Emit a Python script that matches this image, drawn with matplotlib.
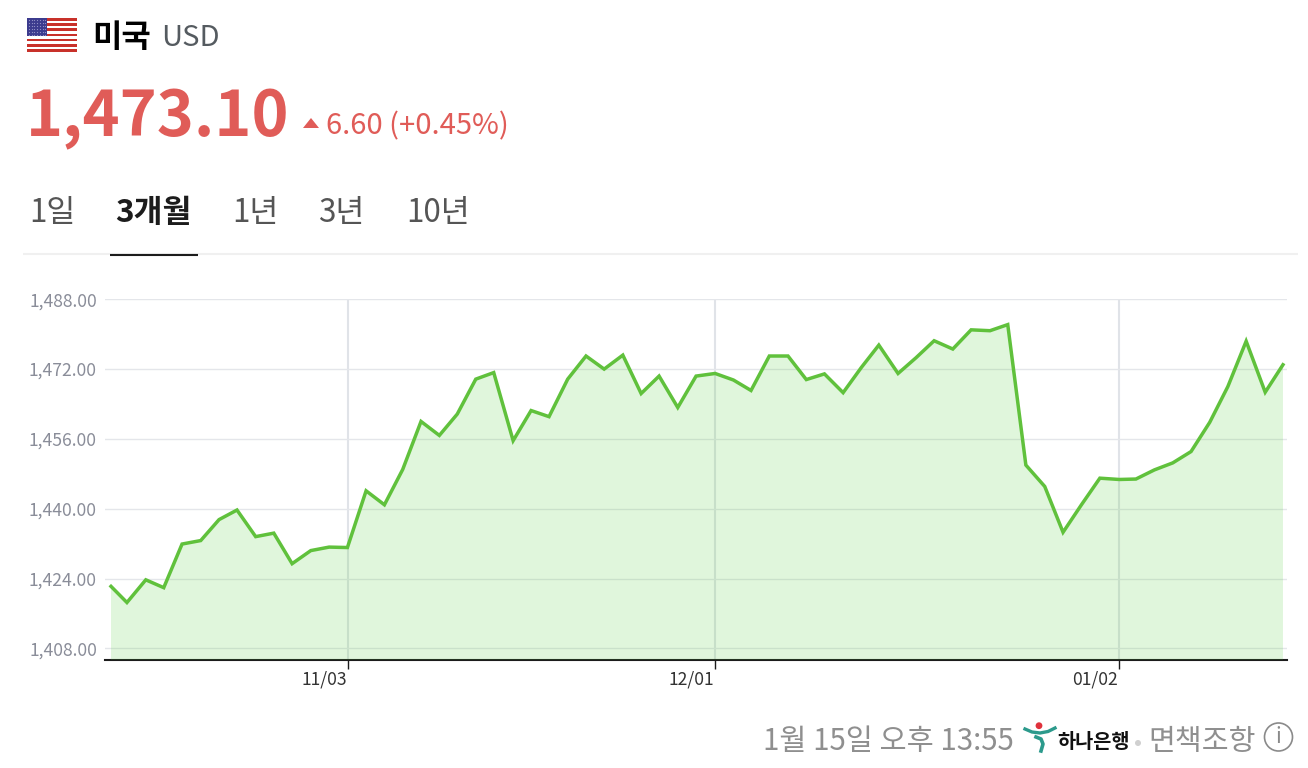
# -*- coding: utf-8 -*-

import matplotlib
matplotlib.use("Agg")
import matplotlib.pyplot as plt
from matplotlib.patches import Rectangle, Circle, Polygon
from matplotlib.transforms import ScaledTranslation

plt.rcParams['font.family'] = ['Noto Sans CJK KR', 'DejaVu Sans']

# trading slots on the time axis
slots = [
    0, 0.87, 1.90, 2.88, 3.88, 4.90, 5.90, 6.88, 7.90, 8.89,
    9.89, 10.91, 11.91, 12.91, 13.93, 14.93, 15.93, 16.93, 17.93, 18.91,
    19.92, 20.90, 21.96, 22.94, 23.92, 24.94, 25.94, 26.93, 27.95, 28.95,
    29.93, 30.95, 31.95, 32.99, 33.99, 34.95, 35.95, 36.97, 37.97, 38.96,
    39.98, 40.98, 41.93, 42.98, 43.96, 44.95, 45.97, 46.97, 48.00, 48.97,
    49.96, 50.99, 51.99, 53.01, 54.00, 55.06, 55.97, 56.98, 57.98, 58.98,
    60.00, 60.99, 61.99, 63.03, 64.00,
]
# exchange rate at each slot
rates = [
    1422.2, 1418.5, 1423.7, 1421.9, 1431.9, 1432.7, 1437.5, 1439.7, 1433.6, 1434.4,
    1427.4, 1430.4, 1431.2, 1431.1, 1444.1, 1440.9, 1449.0, 1460.0, 1456.8, 1461.7,
    1469.7, 1471.2, 1455.6, 1462.5, 1461.1, 1469.7, 1475.0, 1472.0, 1475.2, 1466.4,
    1470.4, 1463.2, 1470.4, 1471.0, 1469.5, 1467.1, 1475.0, 1475.0, 1469.6, 1470.9,
    1466.6, 1472.4, 1477.5, 1471.0, 1474.6, 1478.5, 1476.6, 1481.0, 1480.8, 1482.2,
    1450.0, 1445.1, 1434.6, 1441.0, 1447.0, 1446.7, 1446.8, 1448.9, 1450.5, 1453.1,
    1459.8, 1468.0, 1478.4, 1466.7, 1473.0,
]
y_ticks = [1408, 1424, 1440, 1456, 1472, 1488]
y_labels = ['1,408.00', '1,424.00', '1,440.00', '1,456.00', '1,472.00', '1,488.00']
date_ticks = [12.95, 32.99, 55.06]
date_labels = ['11/03', '12/01', '01/02']
tabs = ['1일', '3개월', '1년', '3년', '10년']

GREEN = '#60c13c'
RED = '#e05c58'
GREY = '#8f8f8f'
TEAL = '#2c9a8c'
W, H = 1308, 768

fig = plt.figure(figsize=(W / 100, H / 100), dpi=100)

# background layer in pixel coordinates for the page header and footer
page = fig.add_axes([0, 0, 1, 1])
page.set_xlim(0, W)
page.set_ylim(H, 0)
page.axis('off')

# flag
stripe = 33.8 / 13
for i in range(13):
    color = '#c8312a' if i % 2 == 0 else 'white'
    page.add_patch(Rectangle((27, 18 + i * stripe), 50, stripe, facecolor=color, edgecolor='none'))
page.add_patch(Rectangle((27, 18), 20, 18.2, facecolor='#3c3b8e', edgecolor='none'))
for row in range(6):
    for col in range(7):
        page.plot(29 + col * 2.7, 20 + row * 3, 's', ms=0.8, color='#8f8dc4', mew=0)

page.text(92, 46.5, '미국', fontsize=23, fontweight='bold', color='#000000')
page.text(161, 46.5, 'USD', fontsize=21, color='#555b60')

page.text(26, 136, '1,473.10', fontsize=45.3, fontweight='bold', color=RED)
page.add_patch(Polygon([[303, 128], [319, 128], [311, 118]], facecolor=RED, edgecolor='none'))
page.text(326, 134, '6.60 (+0.45%)', fontsize=21, color=RED)

tab_x = [29, 115.5, 232, 318, 406]
for i, (x, label) in enumerate(zip(tab_x, tabs)):
    active = i == 1
    page.text(x, 222, label, fontsize=22.6, color='#1c1c1c' if active else '#555555',
              fontweight='bold' if active else 'normal')
page.plot([23, 1298], [254, 254], color='#f0f0f0', lw=1.5, solid_capstyle='butt')
page.plot([110, 198], [254.5, 254.5], color='#1c1c1c', lw=1.5, solid_capstyle='butt')

# footer
page.text(763, 750, '1월 15일 오후 13:55', fontsize=21.2, color=GREY)
page.add_patch(Circle((1039, 725.7), 3.4, facecolor='#e0323c', edgecolor='none'))
page.plot([1025, 1032, 1040, 1048, 1055], [729, 732, 733, 731.5, 728], color=TEAL, lw=2.4)
page.plot([1036, 1041, 1043, 1041], [737, 739, 744, 751], color=TEAL, lw=2.6)
page.text(1057, 748, '하나은행', fontsize=14.2, fontweight='bold', color='#111111')
page.add_patch(Circle((1138, 743), 3, facecolor='#d0d0d0', edgecolor='none'))
page.text(1148, 750, '면책조항', fontsize=21, color=GREY)
page.add_patch(Circle((1278.5, 737), 14, facecolor='none', edgecolor='#8a8a8a', lw=1.2))
page.text(1278.5, 737, 'i', fontsize=15, color='#8a8a8a', ha='center', va='center')

# chart, placed so the axes span pixels 105..1287 and 299.3..659.7
ax = fig.add_axes([105 / W, 1 - 659.7 / H, 1182 / W, 360.4 / H])
ax.patch.set_alpha(0)
y_bottom = 1405.39
ax.set_xlim(-0.328, 64.22)
ax.set_ylim(y_bottom, 1488)
ax.fill_between(slots, y_bottom, rates, facecolor='#5fd047', alpha=0.19, edgecolor='none', zorder=3)
ax.plot(slots, rates, color=GREEN, lw=2.5, zorder=4, solid_joinstyle='miter')

ax.set_yticks(y_ticks, y_labels)
ax.set_xticks(date_ticks, date_labels, ha='right')
ax.grid(axis='y', color='#e4e6ea', lw=1, zorder=1)
ax.grid(axis='x', color='#e0e3e8', lw=1.5, zorder=1)
ax.set_axisbelow(True)
ax.tick_params(axis='y', length=0, pad=5.8, labelsize=12.6, labelcolor='#8a8d99')
ax.tick_params(axis='x', length=6.5, width=1, color='#1c1c1c', pad=1.5, labelsize=12.6, labelcolor='#333333')
shift = ScaledTranslation(-1 / 100, 0, fig.dpi_scale_trans)
for label in ax.get_xticklabels():
    label.set_transform(label.get_transform() + shift)
for side in ['top', 'left', 'right']:
    ax.spines[side].set_visible(False)
ax.spines['bottom'].set_color('#1c1c1c')
ax.spines['bottom'].set_linewidth(1.5)

fig.savefig('out.png', dpi=100)
